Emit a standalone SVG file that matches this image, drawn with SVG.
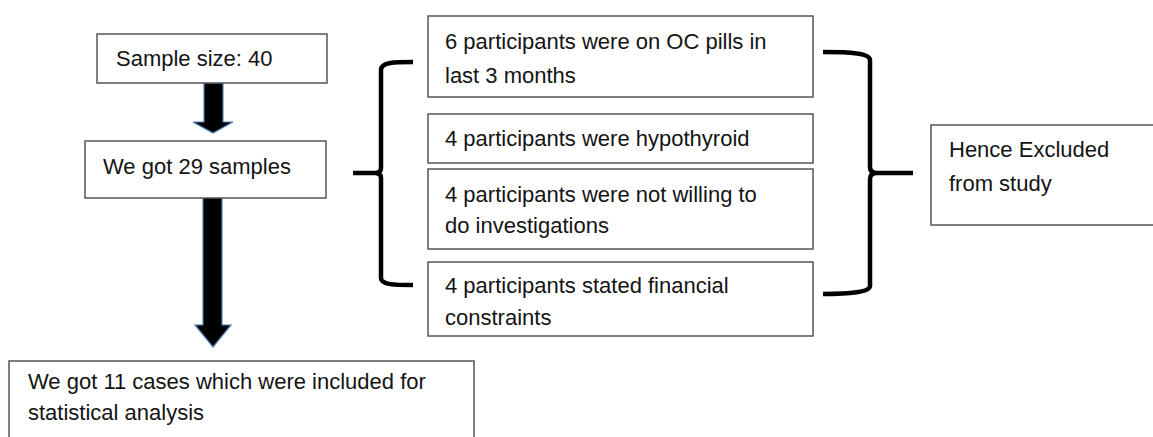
<svg xmlns="http://www.w3.org/2000/svg" width="1153" height="437" viewBox="0 0 1153 437">
<style>
.box{fill:#fff;stroke:#555;stroke-width:1.5}
.t{font-family:"Liberation Sans",Arial,sans-serif;font-size:22px;fill:#141414}
.arrow{fill:#000;stroke:#4f7fb5;stroke-width:1.2}
.brace{fill:none;stroke:#000;stroke-width:4.5;stroke-linecap:butt;stroke-linejoin:round}
</style>
<rect width="1153" height="437" fill="#fff"/>
<g id="connectors">
<path class="arrow" d="M204,83 H223 V122 H233 L213,133 L193,122 H204 Z"/>
<path class="arrow" d="M203,197 H222 V325 H231 L213,347 L195,325 H203 Z"/>
<path class="brace" d="M413,62 C395,62 381,62 381,70 V168 Q381,173 375,173 H353 M375,173 Q381,173 381,178 V278 C381,285 395,285 413,285"/>
<path class="brace" d="M823,52 C850,52 870,53 870,60 V167 Q870,173 877,173 H913 M877,173 Q870,173 870,179 V286 C870,292 850,294 823,294"/>
</g>
<g id="n1"><rect class="box" x="97" y="34" width="230" height="49"/><text class="t" x="116" y="66">Sample size: 40</text></g>
<g id="n2"><rect class="box" x="85" y="141" width="241" height="57"/><text class="t" x="103" y="174">We got 29 samples</text></g>
<g id="n3"><rect class="box" x="9" y="361" width="465" height="90"/><text class="t" x="28" y="389">We got 11 cases which were included for</text><text class="t" x="28" y="420">statistical analysis</text></g>
<g id="e1"><rect class="box" x="428" y="16" width="385" height="81"/><text class="t" x="445" y="49">6 participants were on OC pills in</text><text class="t" x="445" y="83">last 3 months</text></g>
<g id="e2"><rect class="box" x="428" y="114" width="385" height="49"/><text class="t" x="445" y="146">4 participants were hypothyroid</text></g>
<g id="e3"><rect class="box" x="428" y="169" width="385" height="80"/><text class="t" x="445" y="202">4 participants were not willing to</text><text class="t" x="445" y="233">do investigations</text></g>
<g id="e4"><rect class="box" x="428" y="262" width="385" height="74"/><text class="t" x="445" y="293">4 participants stated financial</text><text class="t" x="445" y="325">constraints</text></g>
<g id="n4"><rect class="box" x="931" y="125" width="230" height="100"/><text class="t" x="949" y="157">Hence Excluded</text><text class="t" x="949" y="191">from study</text></g>
</svg>
